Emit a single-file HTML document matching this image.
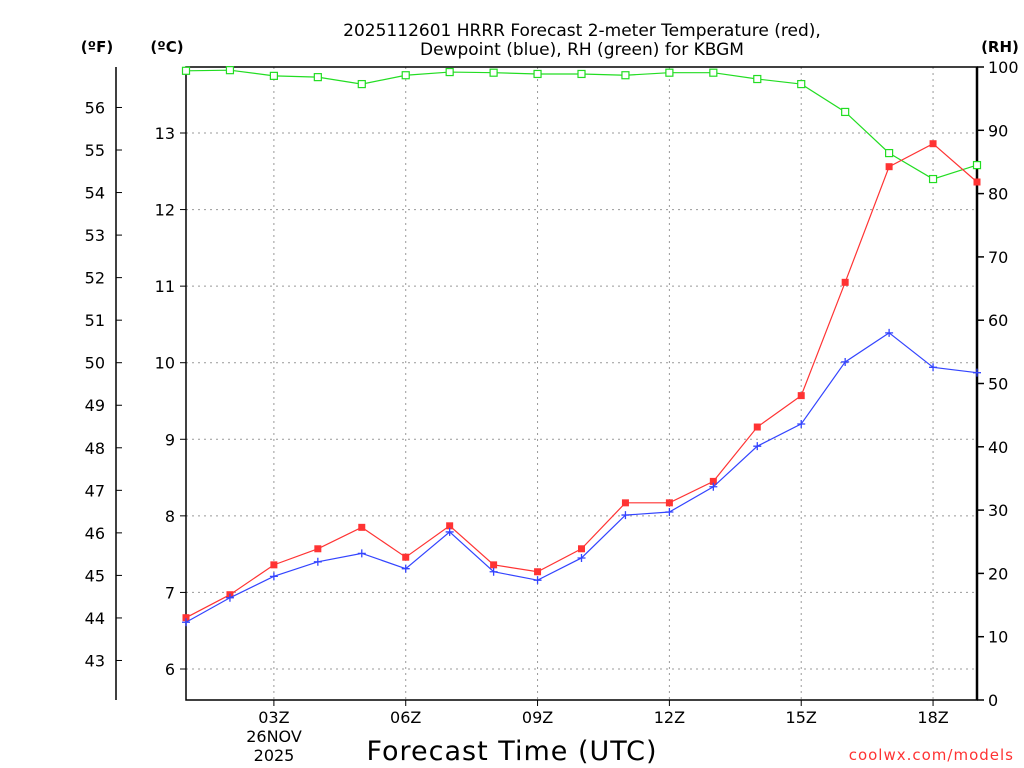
<!DOCTYPE html>
<html><head><meta charset="utf-8"><style>
body{margin:0;background:#fff;}
svg{display:block;font-family:"DejaVu Sans","Liberation Sans",sans-serif;}
</style></head><body>
<svg id="chart" width="1024" height="768">
<g id="grid"></g>
<g id="axes"></g>
<g id="series"></g>
<text x="582" y="36" text-anchor="middle" font-size="17">2025112601 HRRR Forecast 2-meter Temperature (red),</text>
<text x="582" y="55" text-anchor="middle" font-size="17">Dewpoint (blue), RH (green) for KBGM</text>
<text x="97" y="52" text-anchor="middle" font-size="15" font-weight="bold">(ºF)</text>
<text x="167" y="52" text-anchor="middle" font-size="15" font-weight="bold">(ºC)</text>
<text x="1000" y="52" text-anchor="middle" font-size="15" font-weight="bold">(RH)</text>
<text x="274" y="742" text-anchor="middle" font-size="16">26NOV</text>
<text x="274" y="761" text-anchor="middle" font-size="16">2025</text>
<text x="512" y="760" text-anchor="middle" font-size="27" letter-spacing="1">Forecast Time (UTC)</text>
<text x="1014" y="760" text-anchor="end" font-size="15" fill="#ff3333" letter-spacing="1">coolwx.com/models</text>
</svg>
<script>
const hours=[1,2,3,4,5,6,7,8,9,10,11,12,13,14,15,16,17,18,19];
const tempC=[6.67,6.97,7.36,7.57,7.85,7.46,7.87,7.36,7.27,7.57,8.17,8.17,8.45,9.16,9.57,11.05,12.56,12.86,12.36];
const dewC=[6.61,6.93,7.21,7.40,7.51,7.31,7.79,7.27,7.16,7.45,8.01,8.05,8.38,8.91,9.20,10.01,10.39,9.94,9.87];
const rh=[99.4,99.5,98.6,98.4,97.3,98.7,99.2,99.1,98.9,98.9,98.7,99.1,99.1,98.1,97.3,92.9,86.4,82.3,84.5];
const xTickHours=[3,6,9,12,15,18];
const xTickLabels=["03Z","06Z","09Z","12Z","15Z","18Z"];
const cTicks=[6,7,8,9,10,11,12,13];
const fTicks=[43,44,45,46,47,48,49,50,51,52,53,54,55,56];
const rhTicks=[0,10,20,30,40,50,60,70,80,90,100];

const L=186,R=977,T=67,B=700;
const x=h=>L+(h-1)*(R-L)/18;
const yC=c=>133+(13-c)*76.57;
const yF=f=>yC((f-32)*5/9);
const yR=v=>B-v*(B-T)/100;
const NS="http://www.w3.org/2000/svg";
function mk(p,tag,attrs,txt){const e=document.createElementNS(NS,tag);for(const k in attrs)e.setAttribute(k,attrs[k]);if(txt!==undefined)e.textContent=txt;p.appendChild(e);return e;}
const grid=document.getElementById('grid'),axes=document.getElementById('axes'),ser=document.getElementById('series');

cTicks.forEach(c=>{
 const l=mk(grid,'line',{x1:L,x2:R,y1:yC(c),y2:yC(c),stroke:'#999','stroke-dasharray':'2,4'});
 
 
 const t=mk(axes,'line',{x1:L-6,x2:L,y1:yC(c),y2:yC(c),stroke:'#000'});
 const tx=mk(axes,'text',{x:L-11,y:yC(c)+6,'text-anchor':'end','font-size':16},c);
 
 
});
xTickHours.forEach((h,i)=>{
 const l=mk(grid,'line',{x1:x(h),x2:x(h),y1:T,y2:B,stroke:'#999','stroke-dasharray':'2,4'});
 
 
 mk(axes,'line',{x1:x(h),x2:x(h),y1:B,y2:B+6,stroke:'#000'});
 const tx=mk(axes,'text',{x:x(h),y:B+23,'text-anchor':'middle','font-size':16},xTickLabels[i]);
 
 
});
fTicks.forEach(f=>{
 mk(axes,'line',{x1:116,x2:122,y1:yF(f),y2:yF(f),stroke:'#000'});
 const tx=mk(axes,'text',{x:105,y:yF(f)+6,'text-anchor':'end','font-size':16},f);
 
 
});
rhTicks.forEach(v=>{
 mk(axes,'line',{x1:R,x2:R+7,y1:yR(v),y2:yR(v),stroke:'#000','stroke-width':1.5});
 const tx=mk(axes,'text',{x:R+11,y:yR(v)+6,'font-size':16},v);
 
 
});
mk(axes,'rect',{x:L,y:T,width:R-L,height:B-T,fill:'none',stroke:'#000','stroke-width':1.5});
mk(axes,'line',{x1:R,x2:R,y1:T,y2:B,stroke:'#000','stroke-width':2.5});
mk(axes,'line',{x1:116,x2:116,y1:T,y2:B,stroke:'#000','stroke-width':1.5});

function series(vals,yf,color,marker,name){
 const g=mk(ser,'g',{});
 
 
 mk(g,'polyline',{points:vals.map((v,i)=>x(hours[i])+','+yf(v)).join(' '),fill:'none',stroke:color,'stroke-width':1.2});
 vals.forEach((v,i)=>{
  const cx=x(hours[i]),cy=yf(v);
  let m;
  if(marker==='fill')m=mk(g,'rect',{x:cx-3.5,y:cy-3.5,width:7,height:7,fill:color});
  else if(marker==='open')m=mk(g,'rect',{x:cx-3.5,y:cy-3.5,width:7,height:7,fill:'#fff',stroke:color,'stroke-width':1.2});
  else m=mk(g,'path',{d:`M${cx-4},${cy}H${cx+4}M${cx},${cy-4}V${cy+4}`,stroke:color,'stroke-width':1.3});
  
  
 });
}
series(rh,yR,'#22dd22','open','rh-series');
series(tempC,yC,'#ff3333','fill','temperature-series');
series(dewC,yC,'#3344ff','plus','dewpoint-series');
</script>
</body></html>
